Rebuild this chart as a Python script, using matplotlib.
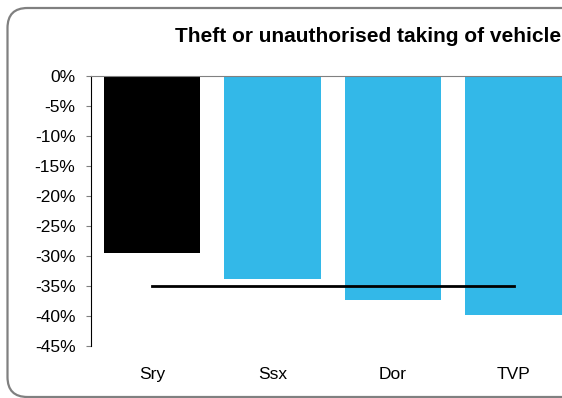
import matplotlib
matplotlib.use('Agg')
import matplotlib.pyplot as plt
from matplotlib.patches import FancyBboxPatch
from matplotlib.ticker import FuncFormatter

plt.rcParams['font.family'] = ['Liberation Sans', 'DejaVu Sans']

# dados
forces = ['Sry', 'Ssx', 'Dor', 'TVP']
change = [-0.295, -0.338, -0.373, -0.398]
average = [-0.35, -0.35, -0.35, -0.35]
cores = ['#000000', '#33b8e8', '#33b8e8', '#33b8e8']
titulo = 'Theft or unauthorised taking of vehicle'

fig = plt.figure(figsize=(5.62, 3.98), dpi=100)

# moldura arredondada
moldura = FancyBboxPatch((0.075, 0.01), 6.0, 3.89,
                         boxstyle='round,pad=0,rounding_size=0.2',
                         transform=fig.dpi_scale_trans, zorder=-1,
                         facecolor='none', edgecolor='#808080', lw=1.6)
fig.patches.append(moldura)

ax = fig.add_axes([0.1628, 0.1307, 0.8586, 0.679])
ax.patch.set_visible(False)
x = range(len(forces))
ax.bar(x, change, width=0.8, color=cores, zorder=2)
ax.plot(x, average, color='black', lw=2, zorder=3)

ax.set_xlim(-0.5, 3.5)
ax.set_ylim(-0.45, 0)
ax.set_yticks([-0.05 * i for i in range(10)])
ax.yaxis.set_major_formatter(FuncFormatter(lambda v, p: '%d%%' % round(v * 100)))
ax.set_xticks(list(x))
ax.set_xticklabels(forces)

ax.spines['right'].set_visible(False)
ax.spines['bottom'].set_visible(False)
ax.spines['top'].set_color('#808080')
ax.spines['left'].set_color('black')
ax.tick_params(axis='y', direction='out', length=3.6, color='#808080',
               labelsize=12.5, pad=8)
ax.tick_params(axis='x', length=0, labelsize=12.5, pad=15)

fig.text(175 / 562, 1 - 37 / 398, titulo, fontsize=15, fontweight='bold',
         ha='left', va='center')

fig.savefig('out.png', dpi=100)
